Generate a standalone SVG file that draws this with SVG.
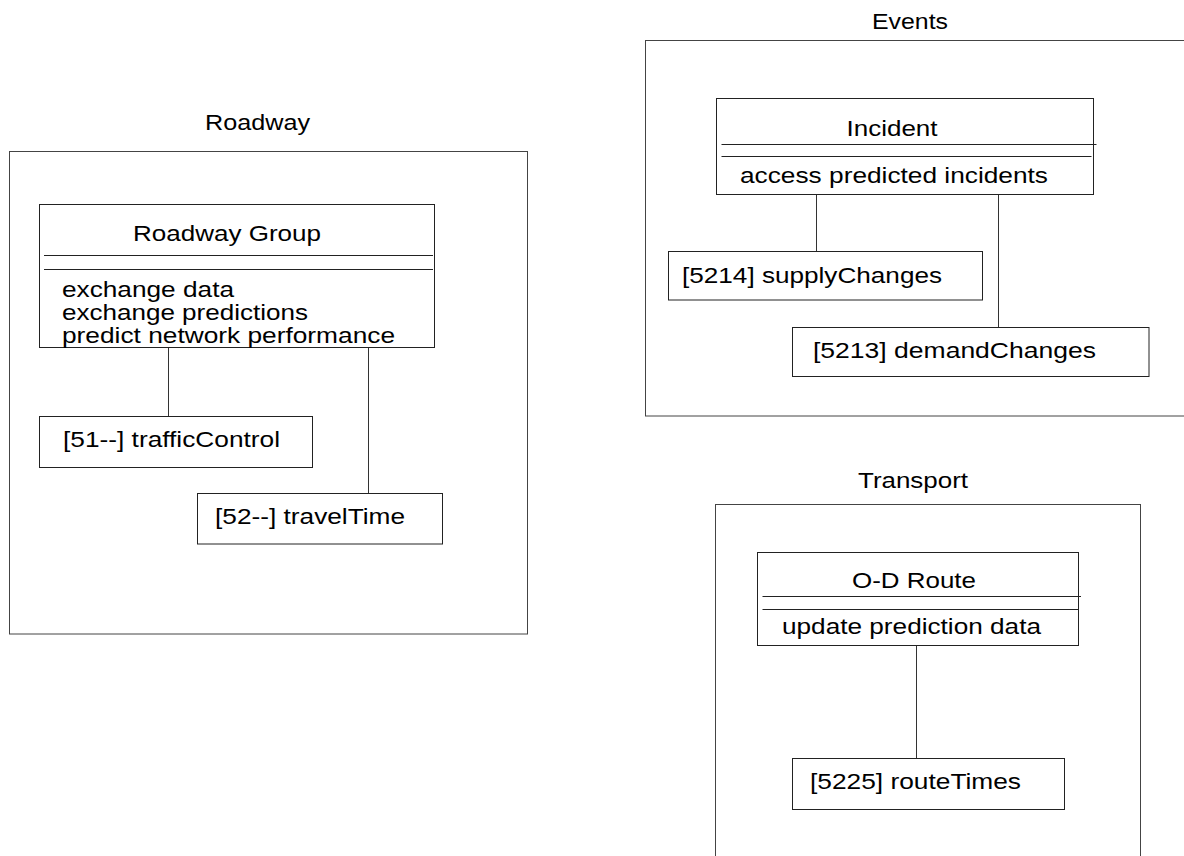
<svg xmlns="http://www.w3.org/2000/svg" width="1184" height="856" viewBox="0 0 1184 856">
<style>
  .pkg { fill: none; stroke: #444; stroke-width: 1; }
  .box { fill: #fff; stroke: #222; stroke-width: 1; }
  .sep { stroke: #222; stroke-width: 1; }
  .con { stroke: #333; stroke-width: 1; fill: none; }
  text { font-family: "Liberation Sans", Arial, sans-serif; font-size: 22px; fill: #000; }
</style>
<rect width="1184" height="856" fill="#fff"/>

<!-- Packages -->
<g id="pkg-roadway">
  <text x="205" y="130" textLength="105" lengthAdjust="spacingAndGlyphs">Roadway</text>
  <rect class="pkg" x="9.5" y="151.5" width="518" height="482.5"/>
</g>
<g id="pkg-events">
  <text x="872" y="29" textLength="76" lengthAdjust="spacingAndGlyphs">Events</text>
  <rect class="pkg" x="645.5" y="40.5" width="560" height="375.5"/>
</g>
<g id="pkg-transport">
  <text x="858" y="488" textLength="110" lengthAdjust="spacingAndGlyphs">Transport</text>
  <rect class="pkg" x="715.5" y="504.5" width="425" height="400"/>
</g>

<!-- Connectors -->
<g id="connectors">
  <line class="con" x1="168.5" y1="347.5" x2="168.5" y2="416.5"/>
  <line class="con" x1="368.5" y1="347.5" x2="368.5" y2="493.5"/>
  <line class="con" x1="816.5" y1="194.5" x2="816.5" y2="251.5"/>
  <line class="con" x1="998.5" y1="194.5" x2="998.5" y2="327.5"/>
  <line class="con" x1="916.5" y1="645.5" x2="916.5" y2="758.5"/>
</g>

<!-- Roadway nodes -->
<g id="roadway-group">
  <rect class="box" x="39.5" y="204.5" width="395" height="143"/>
  <text x="133" y="241" textLength="188" lengthAdjust="spacingAndGlyphs">Roadway Group</text>
  <line class="sep" x1="44" y1="255.5" x2="433" y2="255.5"/>
  <line class="sep" x1="44" y1="269.5" x2="433" y2="269.5"/>
  <text x="62" y="297" textLength="172" lengthAdjust="spacingAndGlyphs">exchange data</text>
  <text x="62" y="320" textLength="246" lengthAdjust="spacingAndGlyphs">exchange predictions</text>
  <text x="62" y="343" textLength="333" lengthAdjust="spacingAndGlyphs">predict network performance</text>
</g>
<g id="traffic-control">
  <rect class="box" x="39.5" y="416.5" width="273" height="51"/>
  <text x="63" y="447" textLength="217" lengthAdjust="spacingAndGlyphs">[51--] trafficControl</text>
</g>
<g id="travel-time">
  <rect class="box" x="197.5" y="493.5" width="245" height="50.5"/>
  <text x="215" y="524" textLength="190" lengthAdjust="spacingAndGlyphs">[52--] travelTime</text>
</g>

<!-- Events nodes -->
<g id="incident">
  <rect class="box" x="716.5" y="98.5" width="377" height="96"/>
  <text x="846.5" y="136" textLength="91" lengthAdjust="spacingAndGlyphs">Incident</text>
  <line class="sep" x1="721.5" y1="144.5" x2="1096.5" y2="144.5"/>
  <line class="sep" x1="721.5" y1="156.5" x2="1091.5" y2="156.5"/>
  <text x="740" y="183" textLength="308" lengthAdjust="spacingAndGlyphs">access predicted incidents</text>
</g>
<g id="supply-changes">
  <rect class="box" x="668.5" y="251.5" width="314" height="48.5"/>
  <text x="682" y="283" textLength="260" lengthAdjust="spacingAndGlyphs">[5214] supplyChanges</text>
</g>
<g id="demand-changes">
  <rect class="box" x="792.5" y="327.5" width="356.5" height="49"/>
  <text x="813" y="358" textLength="283" lengthAdjust="spacingAndGlyphs">[5213] demandChanges</text>
</g>

<!-- Transport nodes -->
<g id="od-route">
  <rect class="box" x="757.5" y="552.5" width="321" height="93"/>
  <text x="852" y="588" textLength="124" lengthAdjust="spacingAndGlyphs">O-D Route</text>
  <line class="sep" x1="762.5" y1="596.5" x2="1081" y2="596.5"/>
  <line class="sep" x1="762.5" y1="609.5" x2="1078" y2="609.5"/>
  <text x="782" y="634" textLength="259" lengthAdjust="spacingAndGlyphs">update prediction data</text>
</g>
<g id="route-times">
  <rect class="box" x="792.5" y="758.5" width="272" height="51"/>
  <text x="810" y="789" textLength="211" lengthAdjust="spacingAndGlyphs">[5225] routeTimes</text>
</g>
</svg>
